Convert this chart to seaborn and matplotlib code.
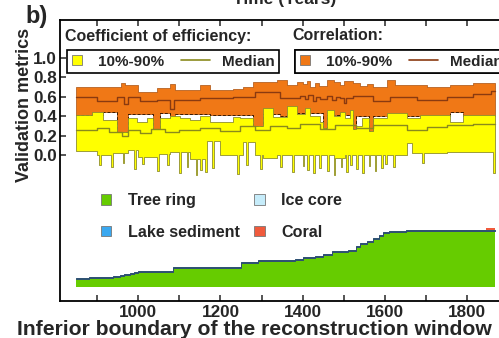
import numpy as np
import matplotlib
matplotlib.use("Agg")
import matplotlib.pyplot as plt
import seaborn as sns
from matplotlib.legend_handler import HandlerBase
from matplotlib.lines import Line2D
from matplotlib.patches import Rectangle, Patch

# ---------------- data ----------------
END_YEAR = 1867

corr_hi_yr = [849, 958, 968, 1000, 1046, 1078, 1090, 1151, 1175, 1231, 1255, 1279, 1338, 1362, 1386,
              1400, 1410, 1418, 1430, 1440, 1459, 1475, 1490, 1500, 1522, 1540, 1555, 1571, 1605,
              1625, 1702, 1758, 1814]
corr_hi = [0.70, 0.74, 0.72, 0.65, 0.69, 0.73, 0.67, 0.72, 0.67, 0.68, 0.70, 0.75, 0.77, 0.72, 0.75,
           0.73, 0.76, 0.70, 0.74, 0.71, 0.77, 0.75, 0.72, 0.76, 0.74, 0.71, 0.73, 0.70, 0.77,
           0.72, 0.70, 0.72, 0.74]

corr_med_yr = [849, 900, 949, 966, 976, 1005, 1046, 1078, 1088, 1151, 1231, 1284, 1345, 1394, 1405,
               1412, 1425, 1432, 1442, 1459, 1470, 1480, 1491, 1500, 1506, 1522, 1571, 1612, 1678,
               1751, 1814, 1858]
corr_med = [0.60, 0.55, 0.60, 0.52, 0.60, 0.55, 0.56, 0.47, 0.56, 0.58, 0.60, 0.65, 0.58, 0.61, 0.57,
            0.62, 0.55, 0.60, 0.57, 0.61, 0.56, 0.60, 0.58, 0.53, 0.58, 0.61, 0.55, 0.60, 0.56,
            0.60, 0.63, 0.66]

corr_lo_yr = [849, 915, 949, 976, 1036, 1053, 1078, 1090, 1175, 1279, 1304, 1345, 1386, 1450, 1459,
              1522, 1530, 1560, 1570, 1612, 1758, 1790]
corr_lo = [0.41, 0.44, 0.24, 0.42, 0.27, 0.43, 0.38, 0.42, 0.41, 0.30, 0.42, 0.40, 0.43, 0.28, 0.41,
           0.27, 0.40, 0.25, 0.40, 0.40, 0.44, 0.40]

ce_hi_yr = [849, 888, 915, 949, 976, 998, 1022, 1036, 1053, 1078, 1102, 1126, 1151, 1175, 1231, 1248,
            1279, 1304, 1328, 1362, 1386, 1406, 1418, 1442, 1450, 1459, 1475, 1491, 1503, 1515, 1522,
            1530, 1545, 1560, 1571, 1605, 1654, 1685, 1758, 1790]
ce_hi = [0.41, 0.44, 0.36, 0.24, 0.38, 0.34, 0.38, 0.27, 0.38, 0.40, 0.38, 0.36, 0.40, 0.34, 0.39, 0.38,
         0.30, 0.48, 0.39, 0.50, 0.42, 0.48, 0.40, 0.34, 0.28, 0.46, 0.40, 0.44, 0.38, 0.46, 0.27,
         0.30, 0.38, 0.25, 0.38, 0.43, 0.38, 0.41, 0.34, 0.41]

ce_med_yr = [849, 900, 930, 960, 976, 1005, 1030, 1066, 1100, 1151, 1199, 1248, 1284, 1321, 1362, 1394,
             1442, 1479, 1530, 1571, 1654, 1702, 1751, 1814]
ce_med = [0.26, 0.28, 0.24, 0.20, 0.26, 0.23, 0.27, 0.24, 0.26, 0.28, 0.25, 0.30, 0.26, 0.30, 0.28, 0.32,
          0.27, 0.31, 0.28, 0.31, 0.26, 0.29, 0.31, 0.32]

ce_lo_yr = [849, 900, 940, 976, 1000, 1046, 1078, 1126, 1168, 1199, 1255, 1284, 1304, 1338, 1479, 1503,
            1654, 1666, 1750]
ce_lo = [0.04, 0.00, 0.02, 0.05, -0.02, 0.01, 0.03, -0.04, 0.14, 0.00, 0.13, 0.00, -0.03, 0.00, -0.03, 0.00,
         0.12, 0.02, 0.03]

ce_spike_yr = [905, 935, 962, 990, 1010, 1046, 1070, 1100, 1118, 1140, 1150, 1163, 1180, 1240, 1262, 1296,
               1345, 1374, 1400, 1410, 1425, 1440, 1460, 1475, 1492, 1505, 1515, 1530, 1545, 1560, 1575,
               1590, 1600, 1620, 1690, 1862]
ce_spike_lo = [-0.10, -0.12, -0.08, -0.14, -0.09, -0.16, -0.10, -0.18, -0.12, -0.20, -0.15, -0.17, -0.13,
               -0.19, -0.10, -0.14, -0.12, -0.17, -0.11, -0.15, -0.18, -0.13, -0.16, -0.20, -0.12, -0.17,
               -0.10, -0.14, -0.18, -0.11, -0.16, -0.13, -0.09, -0.12, -0.08, -0.18]
SPIKE_WIDTH = 4

proxy_yr = [849, 880, 940, 955, 965, 980, 990, 1000, 1085, 1250, 1290, 1380, 1400, 1430, 1450, 1470,
            1510, 1530, 1540, 1555, 1570, 1585, 1595, 1610, 1650, 1845]
tree_ring = [8, 9, 10, 11, 12, 13, 14, 15, 19, 24, 26, 27, 29, 30, 32, 35,
             36, 40, 43, 45, 48, 51, 54, 55, 56, 56]
lake_sediment = [1, 1, 1, 1, 1, 1, 1, 1, 1, 1, 1, 1, 1, 1, 1, 1,
                 1, 1, 1, 1, 1, 1, 1, 1, 1, 1]
ice_core = [0, 0, 0, 0, 0, 0, 0, 0, 0, 0, 0, 0, 0, 0, 0, 0,
            0, 0, 0, 0, 0, 0, 0, 0, 0, 0]
coral = [0, 0, 0, 0, 0, 0, 0, 0, 0, 0, 0, 0, 0, 0, 0, 0,
         0, 0, 0, 0, 0, 0, 0, 0, 0, 2]

x_major = [1000, 1200, 1400, 1600, 1800]
y_ticks = [0.0, 0.2, 0.4, 0.6, 0.8, 1.0]

# ---------------- style ----------------
sns.set_style("ticks")
plt.rcParams["font.family"] = ["Liberation Sans", "DejaVu Sans"]
plt.rcParams["font.weight"] = "bold"
plt.rcParams["axes.labelweight"] = "bold"

YELLOW = "#ffff00"
YELLOW_EDGE = "#8e8e2c"
ORANGE = "#f07816"
ORANGE_EDGE = "#a8500e"
CE_MED_C = "#8a8a1c"
CORR_MED_C = "#8a3a10"
GREEN = "#66cc00"
LAKE = "#3aa8f0"
ICE = "#c6ecfa"
CORAL = "#f05a3c"


def steps(bx, bv, grid):
    idx = np.searchsorted(np.asarray(bx), grid, side="right") - 1
    return np.asarray(bv, float)[np.clip(idx, 0, None)]


grid = np.unique(np.concatenate([corr_hi_yr, corr_med_yr, corr_lo_yr, ce_hi_yr, ce_med_yr, ce_lo_yr,
                                 ce_spike_yr, np.asarray(ce_spike_yr) + SPIKE_WIDTH, [END_YEAR]]))
grid = grid[grid <= END_YEAR]
c_hi = steps(corr_hi_yr, corr_hi, grid)
c_med = steps(corr_med_yr, corr_med, grid)
c_lo = steps(corr_lo_yr, corr_lo, grid)
e_hi = steps(ce_hi_yr, ce_hi, grid)
e_med = steps(ce_med_yr, ce_med, grid)
e_lo = steps(ce_lo_yr, ce_lo, grid)
for s, d in zip(ce_spike_yr, ce_spike_lo):
    m = (grid >= s) & (grid < s + SPIKE_WIDTH)
    e_lo[m] = np.minimum(e_lo[m], d)

pgrid = np.append(proxy_yr, END_YEAR)
def ext(a):
    return np.append(a, a[-1]).astype(float)
t_top = ext(tree_ring)
l_top = t_top + ext(lake_sediment)
i_top = l_top + ext(ice_core)
c_top = i_top + ext(coral)

# ---------------- figure ----------------
W, H = 499, 338
fig = plt.figure(figsize=(W / 100, H / 100), dpi=100)
AX_L, AX_R, AX_T, AX_B = 60, 504.4, 20, 301
ax = fig.add_axes([AX_L / W, 1 - AX_B / H, (AX_R - AX_L) / W, (AX_B - AX_T) / H])

def ax_xy(px, py):
    return (px - AX_L) / (AX_R - AX_L), (AX_B - py) / (AX_B - AX_T)

ax.fill_between(grid, c_lo, c_hi, step="post", facecolor=ORANGE, edgecolor=ORANGE_EDGE,
                linewidth=0.5, zorder=1)
ax.plot(grid, c_lo, drawstyle="steps-post", color="#3a1a00", lw=0.7, ls=(0, (3, 2)), zorder=1.5)
ax.fill_between(grid, e_lo, e_hi, step="post", facecolor=YELLOW, edgecolor=YELLOW_EDGE,
                linewidth=0.6, zorder=2)
sns.lineplot(x=grid, y=e_med, drawstyle="steps-post", color=CE_MED_C, lw=1.0, estimator=None,
             ax=ax, zorder=3)
sns.lineplot(x=grid, y=c_med, drawstyle="steps-post", color=CORR_MED_C, lw=1.0, estimator=None,
             ax=ax, zorder=3)

ax.set_xlim(810, 1890)
ax.set_ylim(-1.497, 1.385)
ax.set_xticks(x_major)
ax.set_xticks(np.arange(900, 1900, 100), minor=True)
ax.set_yticks(y_ticks)
ax.set_yticklabels([f"{v:.1f}" for v in y_ticks])
ax.tick_params(axis="both", which="both", direction="in", top=True, right=False, length=4, width=1.1,
               labelsize=12.3)
ax.tick_params(axis="x", pad=3)
ax.tick_params(axis="y", pad=2)
for sp in ax.spines.values():
    sp.set_linewidth(1.3)
    sp.set_color("black")

ax.set_xlabel("Inferior boundary of the reconstruction window", fontsize=15.2)
ax.xaxis.set_label_coords(*ax_xy(254, 320))
ax.set_ylabel("Validation metrics", fontsize=13)
ax.yaxis.set_label_coords(*ax_xy(33, 105))

# proxy counts on a hidden twin axis
ax2 = ax.twinx()
ax2.set_ylim(-14, 267)
ax2.fill_between(pgrid, 0, t_top, step="post", facecolor=GREEN, linewidth=0)
ax2.fill_between(pgrid, t_top, l_top, step="post", facecolor=LAKE, edgecolor="#2d4f70", linewidth=0.7)
ax2.fill_between(pgrid, l_top, i_top, step="post", facecolor=ICE, linewidth=0)
ax2.fill_between(pgrid, i_top, c_top, step="post", facecolor=CORAL, linewidth=0)
ax2.set_yticks([])
for sp in ax2.spines.values():
    sp.set_visible(False)


class SquareHandler(HandlerBase):
    def __init__(self, size_pt):
        super().__init__()
        self.size = size_pt

    def create_artists(self, legend, orig, xd, yd, width, height, fontsize, trans):
        s = self.size
        r = Rectangle((-xd, -yd + (height - s) / 2), s, s, facecolor=orig.get_facecolor(),
                      edgecolor="#777777", linewidth=0.6, transform=trans)
        return [r]


class LongLineHandler(HandlerBase):
    def __init__(self, before_pt, after_pt):
        super().__init__()
        self.before = before_pt
        self.after = after_pt

    def create_artists(self, legend, orig, xd, yd, width, height, fontsize, trans):
        y = height / 2 - yd
        ln = Line2D([-xd - self.before, width - xd + self.after], [y, y], color=orig.get_color(),
                    lw=orig.get_linewidth(), transform=trans)
        return [ln]


def legend_box(anchor_px, fc, lc, title, title_px):
    ph = Patch(facecolor=fc)
    lh = Line2D([], [], color=lc, lw=1.2)
    hmap = {Patch: SquareHandler(7.2), Line2D: LongLineHandler(10, 0)}
    leg = ax.legend([ph, lh], ["10%-90%", "Median"], loc="upper left",
                    bbox_to_anchor=ax_xy(*anchor_px), ncol=2, frameon=True, fancybox=False,
                    fontsize=11, handlelength=0.95, handletextpad=0.8, columnspacing=2.0,
                    borderpad=0.3, borderaxespad=0, handler_map=hmap)
    fr = leg.get_frame()
    fr.set_edgecolor("black")
    fr.set_linewidth(1.2)
    fr.set_facecolor("white")
    fr.set_alpha(1)
    ax.add_artist(leg)
    tx, ty = ax_xy(*title_px)
    ax.text(tx, ty, title, transform=ax.transAxes, fontsize=11.5, ha="left", va="center")
    return leg


legend_box((67, 50), YELLOW, CE_MED_C, "Coefficient of efficiency:", (65, 36))
legend_box((295, 50), ORANGE, CORR_MED_C, "Correlation:", (292, 36))

ph_list = [Patch(facecolor=GREEN), Patch(facecolor=LAKE), Patch(facecolor=ICE), Patch(facecolor=CORAL)]
leg3 = ax2.legend(ph_list, ["Tree ring", "Lake sediment", "Ice core", "Coral"], loc="upper left",
                  bbox_to_anchor=ax_xy(101, 193), ncol=2, frameon=False, fontsize=11.6,
                  handlelength=0.87, handletextpad=0.8, columnspacing=0.9, labelspacing=1.05,
                  borderpad=0, borderaxespad=0, handler_map={Patch: SquareHandler(7.5)})

fig.text(25 / W, 1 - 17 / H, "b)", fontsize=17, ha="left", va="center")
fig.text(285 / W, 1 - 4 / H, "Time (Years)", fontsize=12.5, ha="center", va="baseline")

fig.savefig("out.png", dpi=100)
